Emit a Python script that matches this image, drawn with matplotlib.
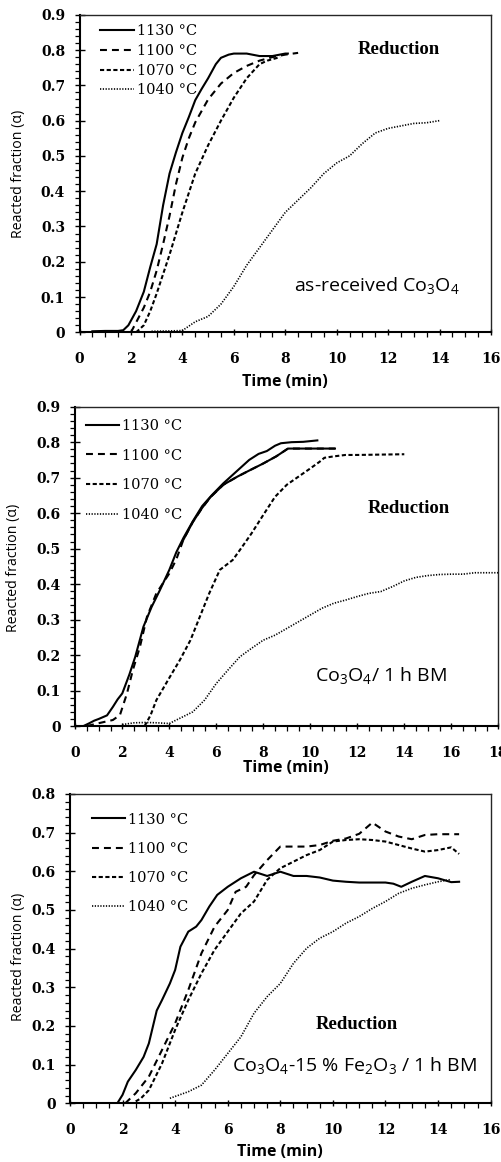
import matplotlib

matplotlib.use("Agg")
import matplotlib.pyplot as plt
from matplotlib.ticker import FuncFormatter, MultipleLocator

plt.rcParams["lines.scale_dashes"] = False

TEMPS = ["1130 °C", "1100 °C", "1070 °C", "1040 °C"]

# panel 1: as-received Co3O4
p1_t_1130 = [0.5, 1.0, 1.5, 1.7, 1.9, 2.2, 2.5, 2.75, 3.0, 3.25, 3.5, 3.75, 4.0, 4.25, 4.5,
             4.75, 5.0, 5.3, 5.5, 5.8, 6.0, 6.5, 7.0, 7.5, 8.0, 8.1]
p1_a_1130 = [0.003, 0.004, 0.004, 0.006, 0.02, 0.06, 0.115, 0.185, 0.25, 0.36, 0.45, 0.51, 0.565,
             0.61, 0.658, 0.69, 0.72, 0.76, 0.778, 0.787, 0.79, 0.79, 0.783, 0.783, 0.79, 0.79]
p1_t_1100 = [2.0, 2.25, 2.5, 2.75, 3.0, 3.25, 3.5, 3.75, 4.0, 4.25, 4.5, 5.0, 5.5, 6.0, 6.5, 7.0,
             7.5, 8.0, 8.5]
p1_a_1100 = [0.0, 0.035, 0.07, 0.115, 0.175, 0.25, 0.33, 0.42, 0.495, 0.55, 0.595, 0.66, 0.705,
             0.735, 0.755, 0.77, 0.78, 0.787, 0.792]
p1_t_1070 = [2.2, 2.5, 2.75, 3.0, 3.25, 3.5, 3.75, 4.0, 4.25, 4.5, 4.75, 5.0, 5.5, 6.0, 6.5, 7.0,
             7.3, 7.8]
p1_a_1070 = [0.0, 0.02, 0.06, 0.11, 0.165, 0.22, 0.28, 0.34, 0.395, 0.45, 0.49, 0.53, 0.6, 0.665,
             0.72, 0.76, 0.77, 0.78]
p1_t_1040 = [2.8, 3.5, 4.0, 4.5, 5.0, 5.5, 6.0, 6.5, 7.0, 7.5, 8.0, 8.5, 9.0, 9.5, 10.0, 10.5,
             11.0, 11.5, 12.0, 12.5, 13.0, 13.5, 14.0]
p1_a_1040 = [0.003, 0.004, 0.005, 0.03, 0.045, 0.08, 0.13, 0.19, 0.24, 0.29, 0.34, 0.375, 0.41,
             0.45, 0.48, 0.5, 0.535, 0.565, 0.578, 0.585, 0.592, 0.594, 0.6]

# panel 2: Co3O4 / 1 h BM
p2_t_1130 = [0.35, 0.6, 0.8, 1.0, 1.35, 1.6, 1.8, 2.0, 2.3, 2.55, 2.9, 3.25, 3.6, 4.0, 4.3, 4.6,
             5.0, 5.4, 5.8, 6.3, 6.9, 7.4, 7.8, 8.15, 8.5, 8.75, 9.2, 9.7, 10.3]
p2_a_1130 = [0.0, 0.008, 0.015, 0.02, 0.03, 0.054, 0.075, 0.092, 0.145, 0.195, 0.28, 0.336, 0.383,
             0.44, 0.49, 0.53, 0.577, 0.62, 0.65, 0.684, 0.72, 0.75, 0.767, 0.775, 0.79, 0.797,
             0.8, 0.801, 0.805]
p2_t_1100 = [0.5, 1.0, 1.6, 1.9, 2.2, 2.45, 2.75, 3.05, 3.45, 4.0, 4.3, 4.6, 5.0, 5.4, 5.75, 6.3,
             6.9, 7.4, 8.0, 8.55, 9.05, 10.0, 11.05]
p2_a_1100 = [0.0, 0.008, 0.017, 0.031, 0.092, 0.158, 0.223, 0.308, 0.374, 0.43, 0.47, 0.525,
             0.575, 0.615, 0.645, 0.68, 0.703, 0.72, 0.74, 0.76, 0.782, 0.782, 0.782]
p2_t_1070 = [2.95, 3.2, 3.45, 3.95, 4.45, 4.9, 5.3, 5.7, 6.15, 6.7, 7.1, 7.5, 8.0, 8.5, 9.0, 9.5,
             10.0, 10.4, 10.6, 11.0, 11.5, 12.0, 13.0, 14.0]
p2_a_1070 = [0.0, 0.03, 0.073, 0.13, 0.186, 0.242, 0.308, 0.374, 0.44, 0.468, 0.505, 0.543, 0.595,
             0.646, 0.68, 0.703, 0.726, 0.745, 0.756, 0.76, 0.764, 0.764, 0.765, 0.766]
p2_t_1040 = [2.0, 2.5, 3.0, 3.5, 4.0, 4.3, 4.7, 5.0, 5.5, 6.0, 6.5, 7.0, 7.5, 8.0, 8.5, 9.0, 9.5,
             10.0, 10.5, 11.0, 11.5, 12.0, 12.5, 13.0, 13.5, 14.0, 14.5, 15.0, 15.5, 16.0, 16.5,
             17.0, 17.5, 18.0]
p2_a_1040 = [0.004, 0.009, 0.01, 0.009, 0.007, 0.017, 0.03, 0.04, 0.073, 0.12, 0.158, 0.195, 0.219,
             0.242, 0.256, 0.275, 0.294, 0.313, 0.332, 0.346, 0.355, 0.365, 0.374, 0.379, 0.393,
             0.409, 0.419, 0.424, 0.427, 0.428, 0.428, 0.432, 0.432, 0.432]

# panel 3: Co3O4-15 % Fe2O3 / 1 h BM
p3_t_1130 = [1.8, 2.0, 2.2, 2.5, 2.8, 3.0, 3.3, 3.5, 3.8, 4.0, 4.2, 4.5, 4.8, 5.0, 5.3, 5.6, 6.0,
             6.5, 7.0, 7.5, 8.0, 8.5, 9.0, 9.5, 10.0, 10.5, 11.0, 11.5, 12.0, 12.3, 12.6, 13.0,
             13.5, 14.0, 14.5, 14.8]
p3_a_1130 = [0.0, 0.022, 0.056, 0.086, 0.12, 0.155, 0.24, 0.267, 0.31, 0.345, 0.405, 0.444, 0.457,
             0.474, 0.509, 0.539, 0.56, 0.582, 0.599, 0.588, 0.599, 0.588, 0.588, 0.584, 0.576,
             0.573, 0.571, 0.571, 0.571, 0.568, 0.56, 0.573, 0.588, 0.582, 0.572, 0.573]
p3_t_1100 = [2.1, 2.5, 3.0, 3.5, 4.0, 4.5, 5.0, 5.5, 6.0, 6.3, 6.7, 7.0, 7.5, 8.0, 8.5, 9.0, 9.5,
             10.0, 10.5, 11.0, 11.5, 12.0, 12.5, 13.0, 13.5, 14.0, 14.8]
p3_a_1100 = [0.0, 0.026, 0.069, 0.138, 0.207, 0.293, 0.388, 0.457, 0.5, 0.547, 0.56, 0.59, 0.629,
             0.664, 0.664, 0.664, 0.668, 0.679, 0.685, 0.697, 0.726, 0.703, 0.69, 0.683, 0.694,
             0.696, 0.696]
p3_t_1070 = [2.5, 2.7, 3.0, 3.5, 4.0, 4.5, 5.0, 5.5, 6.0, 6.5, 7.0, 7.5, 8.0, 8.5, 9.0, 9.5, 10.0,
             10.5, 11.0, 11.5, 12.0, 12.5, 13.0, 13.5, 14.0, 14.5, 14.8]
p3_a_1070 = [0.005, 0.013, 0.034, 0.103, 0.19, 0.267, 0.336, 0.397, 0.444, 0.491, 0.522, 0.578,
             0.608, 0.625, 0.642, 0.655, 0.677, 0.681, 0.683, 0.681, 0.677, 0.668, 0.659, 0.651,
             0.655, 0.662, 0.645]
p3_t_1040 = [3.8, 4.5, 5.0, 5.5, 6.0, 6.5, 7.0, 7.5, 8.0, 8.5, 9.0, 9.5, 10.0, 10.5, 11.0, 11.5,
             12.0, 12.5, 13.0, 13.5, 14.0, 14.5]
p3_a_1040 = [0.013, 0.03, 0.047, 0.086, 0.129, 0.172, 0.233, 0.276, 0.31, 0.362, 0.401, 0.427,
             0.444, 0.466, 0.483, 0.504, 0.522, 0.543, 0.556, 0.565, 0.573, 0.579]

# in panel 2 the 1100 °C curve merges with 1130 °C and reads as a solid line from here on
P2_1100_SOLID_FROM = 4.6

STYLES = [
    dict(linestyle="-", linewidth=1.5),
    dict(linestyle=(0, (5.0, 3.6)), linewidth=1.5),
    dict(linestyle=(0, (3.0, 1.8)), linewidth=1.5),
    dict(linestyle=(0, (0.9, 1.1)), linewidth=1.2),
]

TICK_FONT = dict(family="DejaVu Serif", weight="bold", size=10)
NOTE_SIZE = 14


def _fmt_y(v, _pos):
    return "0" if abs(v) < 1e-9 else f"{v:.1f}"


def _style_axes(ax, xmax, ymax):
    ax.set_xlim(0, xmax)
    ax.set_ylim(0, ymax)
    ax.xaxis.set_major_locator(MultipleLocator(2))
    ax.xaxis.set_minor_locator(MultipleLocator(0.5))
    ax.yaxis.set_major_locator(MultipleLocator(0.1))
    ax.yaxis.set_minor_locator(MultipleLocator(0.02))
    ax.yaxis.set_major_formatter(FuncFormatter(_fmt_y))
    ax.tick_params(axis="x", which="major", direction="inout", length=5, width=1.0, pad=11.9)
    ax.tick_params(axis="y", which="major", direction="inout", length=7, width=1.0, pad=6.9)
    ax.tick_params(which="minor", direction="out", length=3.5, width=0.9)
    for lab in ax.get_xticklabels() + ax.get_yticklabels():
        lab.set_fontfamily(TICK_FONT["family"])
        lab.set_fontweight(TICK_FONT["weight"])
        lab.set_fontsize(TICK_FONT["size"])
    for side in ("left", "bottom"):
        ax.spines[side].set_linewidth(1.5)
    for side in ("top", "right"):
        ax.spines[side].set_linewidth(1.0)
        ax.spines[side].set_color("0.15")


def _labels(ax, xlab_xy, ylab_xy):
    ax.set_xlabel("Time (min)", family="Open Sans", weight="bold", size=11.5)
    ax.xaxis.set_label_coords(*xlab_xy)
    ax.xaxis.label.set_va("center")
    ax.set_ylabel("Reacted fraction (\u03b1)", family="Open Sans", size=10.2)
    ax.yaxis.set_label_coords(*ylab_xy)
    ax.yaxis.label.set_va("center")


def _legend(ax, anchor, spacing):
    ax.legend(
        loc="upper left",
        bbox_to_anchor=anchor,
        frameon=False,
        prop=dict(family="DejaVu Serif", size=10.5),
        handlelength=2.3,
        handletextpad=0.2,
        labelspacing=spacing,
        borderpad=0,
        borderaxespad=0,
    )


def _plot_series(ax, series):
    for (t, a), label, style in zip(series, TEMPS, STYLES):
        ax.plot(t, a, color="black", label=label, **style)


def _note(ax, x, y, text, **kw):
    ax.text(x, y, text, transform=ax.transAxes, ha="center", va="center", **kw)


fig = plt.figure(figsize=(5.02, 11.62), dpi=100)

# panel 1
ax1 = fig.add_axes([0.1584, 0.7140, 0.8197, 0.2733])
_plot_series(ax1, [(p1_t_1130, p1_a_1130), (p1_t_1100, p1_a_1100),
                   (p1_t_1070, p1_a_1070), (p1_t_1040, p1_a_1040)])
_style_axes(ax1, 16, 0.9)
_labels(ax1, (0.5, -0.156), (-0.149, 0.5))
_legend(ax1, (0.05, 0.97), 0.39)
_note(ax1, 0.776, 0.892, "Reduction", family="Liberation Serif", weight="bold", size=13.5)
_note(ax1, 0.722, 0.146, "as-received Co$_\\mathregular{3}$O$_\\mathregular{4}$",
      family="Open Sans", size=NOTE_SIZE)

# panel 2
ax2 = fig.add_axes([0.1500, 0.3752, 0.8426, 0.2748])
_plot_series(ax2, [(p2_t_1130, p2_a_1130), (p2_t_1100, p2_a_1100),
                   (p2_t_1070, p2_a_1070), (p2_t_1040, p2_a_1040)])
tail = [i for i, t in enumerate(p2_t_1100) if t >= P2_1100_SOLID_FROM]
ax2.plot([p2_t_1100[i] for i in tail], [p2_a_1100[i] for i in tail],
         color="black", **STYLES[0])
_style_axes(ax2, 18, 0.9)
_labels(ax2, (0.498, -0.1315), (-0.147, 0.496))
_legend(ax2, (0.025, 0.962), 1.08)
_note(ax2, 0.789, 0.68, "Reduction", family="Liberation Serif", weight="bold", size=13.5)
_note(ax2, 0.723, 0.154, "Co$_\\mathregular{3}$O$_\\mathregular{4}$/ 1 h BM",
      family="Open Sans", size=NOTE_SIZE)

# panel 3
ax3 = fig.add_axes([0.1394, 0.0505, 0.8380, 0.2662])
_plot_series(ax3, [(p3_t_1130, p3_a_1130), (p3_t_1100, p3_a_1100),
                   (p3_t_1070, p3_a_1070), (p3_t_1040, p3_a_1040)])
_style_axes(ax3, 16, 0.8)
_labels(ax3, (0.499, -0.157), (-0.123, 0.474))
_legend(ax3, (0.052, 0.94), 1.04)
_note(ax3, 0.681, 0.255, "Reduction", family="Liberation Serif", weight="bold", size=13.5)
_note(ax3, 0.676, 0.12,
      "Co$_\\mathregular{3}$O$_\\mathregular{4}$-15 % Fe$_\\mathregular{2}$O$_\\mathregular{3}$"
      " / 1 h BM",
      family="Open Sans", size=NOTE_SIZE)

fig.savefig("out.png", dpi=100)
